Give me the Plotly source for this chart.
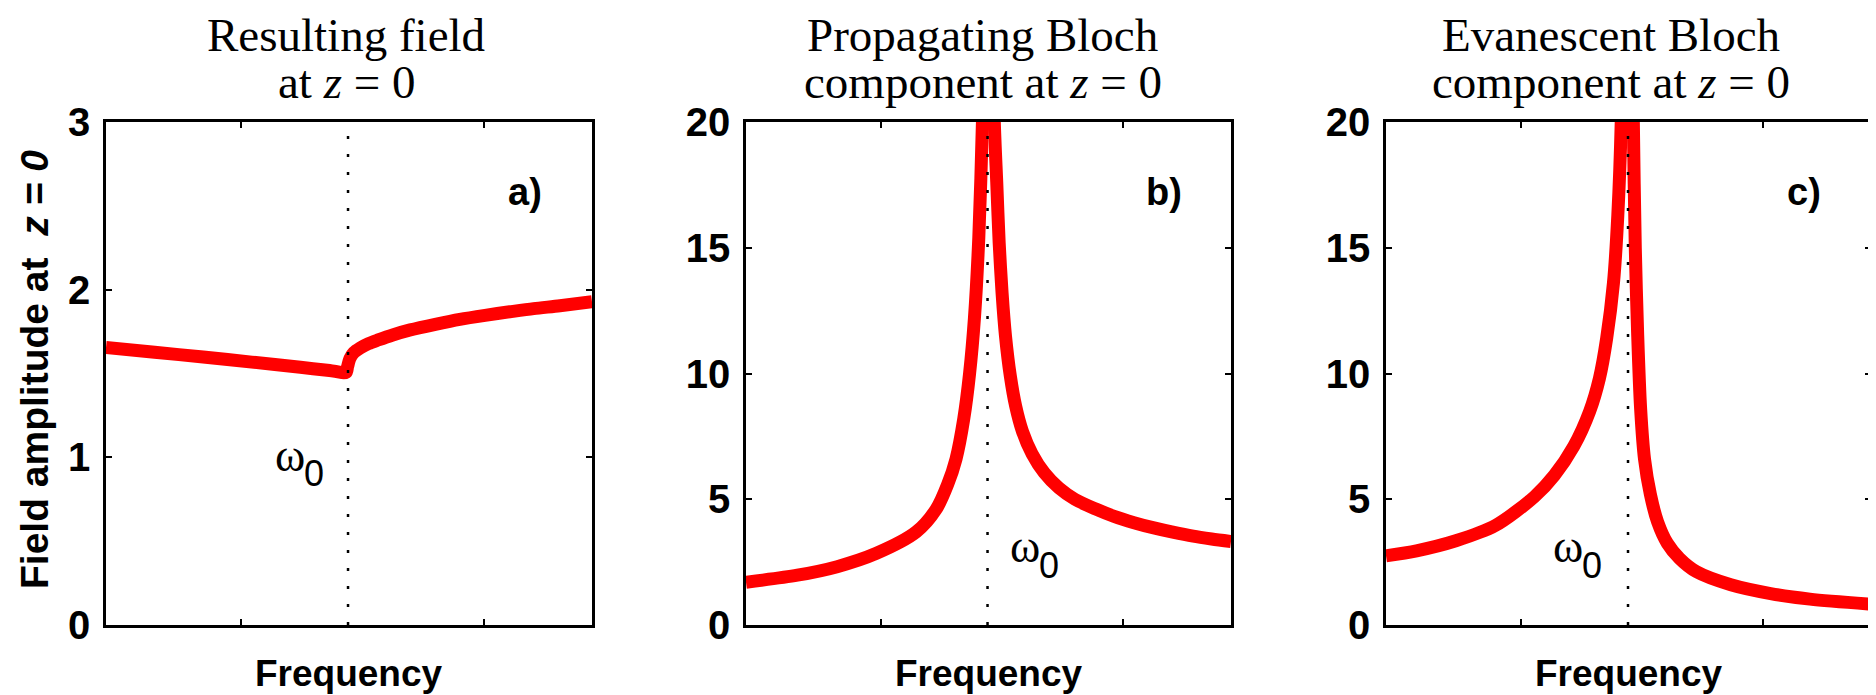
import plotly.graph_objects as go

# ---------------- data (x = normalised frequency across each panel) ----------------
# Panel a: resulting field
a_x = [0.0, 0.1, 0.2, 0.3, 0.4, 0.46, 0.494, 0.497, 0.502, 0.51, 0.523, 0.54, 0.56,
       0.59, 0.626, 0.68, 0.728, 0.78, 0.831, 0.88, 0.934, 1.0]
a_y = [1.655, 1.627, 1.598, 1.568, 1.537, 1.518, 1.507, 1.54, 1.59, 1.625, 1.652, 1.678,
       1.70, 1.73, 1.76, 1.795, 1.823, 1.847, 1.868, 1.887, 1.904, 1.928]

# Panel b: propagating Bloch component
b_x = [0.0, 0.106, 0.188, 0.269, 0.351, 0.392, 0.416, 0.433, 0.449, 0.461, 0.471, 0.480,
       0.4875, 0.491, None, 0.509, 0.512, 0.517, 0.522, 0.528, 0.535, 0.545, 0.556, 0.570,
       0.590, 0.615, 0.645, 0.678, 0.720, 0.759, 0.800, 0.841, 0.880, 0.922, 0.960, 1.0]
b_y = [1.70, 1.98, 2.32, 2.85, 3.70, 4.60, 5.60, 6.60, 8.20, 10.0, 12.2, 15.4,
       20.0, 24.0, None, 24.0, 20.0, 17.6, 15.2, 13.2, 11.5, 9.9, 8.7, 7.7,
       6.8, 6.05, 5.45, 5.0, 4.62, 4.32, 4.07, 3.86, 3.69, 3.53, 3.42, 3.32]

# Panel c: evanescent Bloch component
c_x = [0.0, 0.063, 0.144, 0.225, 0.306, 0.347, 0.387, 0.420, 0.440, 0.455, 0.469, 0.478,
       0.485, 0.488, None, 0.508, 0.510, 0.514, 0.519, 0.525, 0.533, 0.545, 0.560, 0.580,
       0.605, 0.640, 0.711, 0.793, 0.874, 1.0]
c_y = [2.75, 2.95, 3.35, 3.95, 5.1, 5.95, 7.1, 8.5, 9.8, 11.4, 13.6, 16.3,
       20.0, 24.0, None, 24.0, 20.0, 15.0, 11.5, 8.6, 6.6, 5.2, 4.1, 3.25,
       2.65, 2.12, 1.6, 1.25, 1.03, 0.83]

omega0 = [0.498, 0.498, 0.499]          # resonance position (dotted line)
x_ticks = [0.278, 0.777]

y_max = [3, 20, 20]
y_ticks = [[0, 1, 2, 3], [0, 5, 10, 15, 20], [0, 5, 10, 15, 20]]

titles = [("Resulting field", "at <i>z</i> = 0"),
          ("Propagating Bloch", "component at <i>z</i> = 0"),
          ("Evanescent Bloch", "component at <i>z</i> = 0")]
panel_labels = ["a)", "b)", "c)"]
x_title = "Frequency"
y_title = "Field amplitude at  <i>z = 0</i>"

curves = [(a_x, a_y), (b_x, b_y), (c_x, c_y)]

# ---------------- layout geometry (target pixels in the 1876x695 window) ----------------
OFF = 8                      # page body margin of the html page
W, H = 1876 - OFF, 695 - OFF


def px(x):
    return (x - OFF) / W


def py(y):
    return 1 - (y - OFF) / H


dom_px = [(106, 592), (746, 1231), (1386, 1871)]
top_px, bot_px = 122, 625
title_dx = [-3, -6, -18]

SANS = "Liberation Sans, Arial, sans-serif"
SERIF = "Liberation Serif, Times New Roman, serif"

fig = go.Figure()
layout = dict(width=W, height=H,
              margin=dict(l=0, r=0, t=0, b=0, pad=0, autoexpand=False),
              paper_bgcolor="white", plot_bgcolor="white", showlegend=False)
annotations = []

for i in range(3):
    sfx = "" if i == 0 else str(i + 1)
    xa, ya = "x" + sfx, "y" + sfx
    cx, cy = curves[i]
    fig.add_trace(go.Scatter(x=cx, y=cy, mode="lines", xaxis=xa, yaxis=ya,
                             line=dict(color="#ff0000", width=13, shape="spline",
                                       smoothing=0.8),
                             hoverinfo="skip"))
    fig.add_trace(go.Scatter(x=[omega0[i], omega0[i]], y=[0, y_max[i]], mode="lines",
                             xaxis=xa, yaxis=ya,
                             line=dict(color="black", width=2.5, dash="3px,15px"),
                             hoverinfo="skip"))
    common = dict(showgrid=False, zeroline=False, showline=True, linecolor="black",
                  linewidth=2.5, mirror="ticks", ticks="inside", ticklen=6,
                  tickwidth=2, tickcolor="black", automargin=False)
    layout["xaxis" + sfx] = dict(domain=[px(dom_px[i][0]), px(dom_px[i][1])],
                                 range=[0, 1], tickvals=x_ticks, showticklabels=False,
                                 anchor=ya, **common)
    layout["yaxis" + sfx] = dict(domain=[py(bot_px), py(top_px)],
                                 range=[0, y_max[i]], tickvals=y_ticks[i],
                                 ticktext=[str(v) for v in y_ticks[i]],
                                 tickfont=dict(family=SANS, size=40, color="black",
                                               weight="bold"),
                                 ticklabelstandoff=5, anchor=xa, **common)

    cx_px = (dom_px[i][0] + dom_px[i][1]) / 2 + title_dx[i]
    # titles (two lines)
    for line, ypx in zip(titles[i], (35, 82)):
        annotations.append(dict(text=line, xref="paper", x=px(cx_px), yref="paper",
                                y=py(ypx), xanchor="center", yanchor="middle",
                                showarrow=False,
                                font=dict(family=SERIF, size=47, color="black")))
    # x-axis title
    annotations.append(dict(text=x_title, xref=xa + " domain", x=0.5, yref="paper",
                            y=py(673), xanchor="center", yanchor="middle",
                            showarrow=False,
                            font=dict(family=SANS, size=37, color="black", weight="bold")))
    # panel label
    annotations.append(dict(text=panel_labels[i], xref=xa + " domain", x=0.862,
                            yref=ya + " domain", y=0.861, xanchor="center",
                            yanchor="middle", showarrow=False,
                            font=dict(family=SANS, size=38, color="black", weight="bold")))

# omega_0 labels: (omega centre px, zero centre px)
omega_pos = [((290, 455), (314, 474)), ((1025, 546), (1049, 565)), ((1568, 546), (1592, 565))]
for (wx, wy), (zx, zy) in omega_pos:
    annotations.append(dict(text="ω", xref="paper", yref="paper", x=px(wx), y=py(wy),
                            xanchor="center", yanchor="middle", showarrow=False,
                            font=dict(family=SERIF, size=46, color="black")))
    annotations.append(dict(text="0", xref="paper", yref="paper", x=px(zx), y=py(zy),
                            xanchor="center", yanchor="middle", showarrow=False,
                            font=dict(family=SANS, size=36, color="black")))

# y-axis title
annotations.append(dict(text=y_title, xref="paper", yref="paper", x=px(34),
                        y=py(370), xanchor="center", yanchor="middle",
                        textangle=-90, showarrow=False,
                        font=dict(family=SANS, size=39, color="black", weight="bold")))

layout["annotations"] = annotations
fig.update_layout(**layout)
fig.write_html("out.html")
